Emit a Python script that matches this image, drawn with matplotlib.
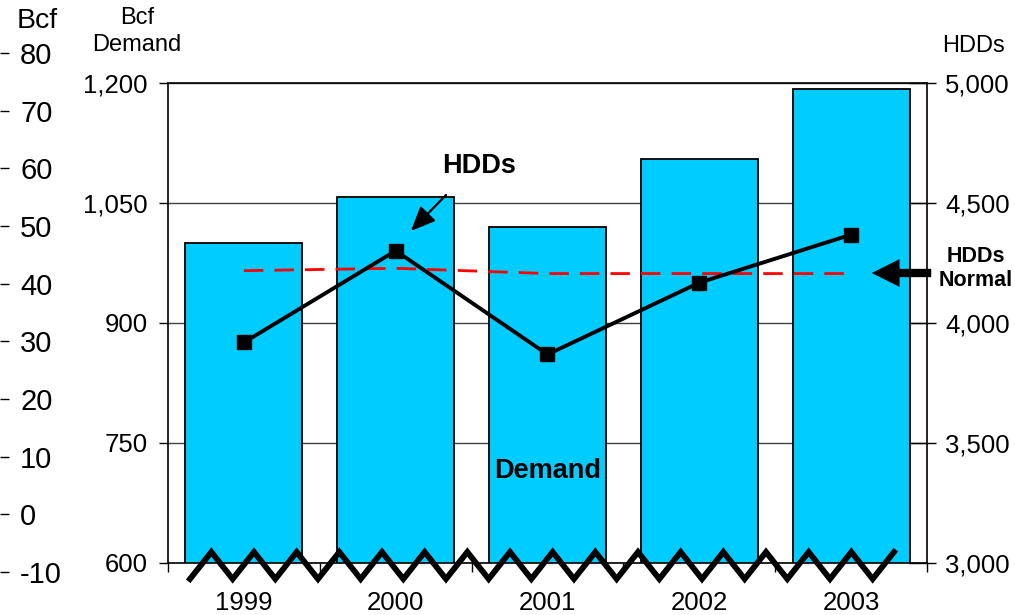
import numpy as np
import matplotlib
matplotlib.use("Agg")
import matplotlib.pyplot as plt
from matplotlib.ticker import FixedLocator, FuncFormatter

plt.rcParams['font.family'] = ['Liberation Sans', 'DejaVu Sans']
plt.rcParams['axes.unicode_minus'] = False

# ---- data ----
years = ["1999", "2000", "2001", "2002", "2003"]
demand_bcf = [1000, 1058, 1020, 1105, 1192]
hdds = [3919, 4301, 3869, 4168, 4368]
hdds_normal = [4218, 4228, 4206, 4206, 4206]
left_ticks = [600, 750, 900, 1050, 1200]
right_ticks = [3000, 3500, 4000, 4500, 5000]
outer_ticks = [-10, 0, 10, 20, 30, 40, 50, 60, 70, 80]

W, H = 1015, 615
fig = plt.figure(figsize=(W / 100, H / 100), dpi=100)

def fx(px):
    return px / W

def fy(py):
    return 1 - py / H

# main axes
L, R, T, B = 168, 927, 83, 563
ax = fig.add_axes([fx(L), fy(B), fx(R) - fx(L), fy(T) - fy(B)])
x = np.arange(len(years))
ax.bar(x, demand_bcf, width=0.77, color="#00CCFF", edgecolor="black",
       linewidth=1.3, zorder=2)
ax.set_xlim(-0.5, len(years) - 0.5)
ax.set_ylim(left_ticks[0], left_ticks[-1])
ax.set_yticks(left_ticks)
ax.yaxis.set_major_formatter(FuncFormatter(lambda v, p: f"{int(v):,}"))
ax.yaxis.grid(True, color="#404040", linewidth=1.0, zorder=0)
ax.set_axisbelow(True)
ax.tick_params(axis="y", direction="out", length=6.5, width=1.0,
               labelsize=18.5, pad=8, colors="black")
# x ticks at category boundaries, labels at centres
ax.xaxis.set_major_locator(FixedLocator(np.arange(-0.5, len(years), 1.0)))
ax.xaxis.set_minor_locator(FixedLocator(x))
ax.xaxis.set_major_formatter(FuncFormatter(lambda v, p: ""))
ax.xaxis.set_minor_formatter(FuncFormatter(lambda v, p: years[int(round(v))]))
ax.tick_params(axis="x", which="major", direction="out", length=6.5, width=1.0)
ax.tick_params(axis="x", which="minor", length=0, labelsize=18.5, pad=20)
for s in ["left", "top", "bottom"]:
    ax.spines[s].set_linewidth(1.2)
ax.spines["right"].set_visible(False)

# right axis (HDDs)
ax2 = ax.twinx()
ax2.set_ylim(right_ticks[0], right_ticks[-1])
ax2.yaxis.set_major_locator(FixedLocator(right_ticks))
ax2.yaxis.set_minor_locator(FixedLocator(right_ticks))
ax2.yaxis.remove_overlapping_locs = False
ax2.yaxis.set_major_formatter(FuncFormatter(lambda v, p: f"{int(v):,}"))
ax2.tick_params(axis="y", which="major", direction="in", length=13, width=1.0,
                labelsize=18.5, pad=13)
ax2.tick_params(axis="y", which="minor", direction="out", length=6.5, width=1.0)
for s in ["left", "top", "bottom"]:
    ax2.spines[s].set_visible(False)
ax2.spines["right"].set_linewidth(1.2)
ax2.plot(x, hdds_normal, color="#FF0000", linewidth=2.0, dashes=(7, 4),
         zorder=3)
ax2.plot(x, hdds, color="black", linewidth=2.8, marker="s", markersize=10,
         zorder=4)

# axis-break zigzag (decoration)
n_pts = 34
zx_px = np.linspace(190, 894, n_pts)
zy_px = np.where(np.arange(n_pts) % 2 == 0, 579, 552)
zx = (zx_px - L) / (R - L) * len(years) - 0.5
zy = left_ticks[0] + (B - zy_px) / (B - T) * (left_ticks[-1] - left_ticks[0])
ax.plot(zx, zy, color="black", linewidth=4.2, solid_joinstyle="miter",
        clip_on=False, zorder=6)

# outer left axis (Bcf)
oT, oB = 53, 572
ax3 = fig.add_axes([0, fy(oB), 0.0001, fy(oT) - fy(oB)])
ax3.set_ylim(outer_ticks[0], outer_ticks[-1])
ax3.set_yticks(outer_ticks)
ax3.yaxis.tick_right()
ax3.tick_params(axis="y", direction="out", length=6.5, width=1.0,
                labelsize=21, pad=8)
ax3.set_xticks([])
for s in ax3.spines.values():
    s.set_visible(False)
ax3.patch.set_visible(False)

# texts
fig.text(fx(37), fy(21), "Bcf", ha="center", va="center", fontsize=20.5)
fig.text(fx(137), fy(18), "Bcf", ha="center", va="center", fontsize=17)
fig.text(fx(137), fy(45), "Demand", ha="center", va="center", fontsize=17)
fig.text(fx(974), fy(46), "HDDs", ha="center", va="center", fontsize=17)
fig.text(fx(479), fy(166), "HDDs", ha="center", va="center", fontsize=19.5,
         fontweight="bold")
fig.text(fx(548), fy(471), "Demand", ha="center", va="center", fontsize=19.5,
         fontweight="bold")
fig.text(fx(976), fy(256), "HDDs", ha="center", va="center",
         fontsize=15.5, fontweight="bold")
fig.text(fx(976), fy(281), "Normal", ha="center", va="center",
         fontsize=15.5, fontweight="bold")

# arrows
fig.add_artist(matplotlib.patches.FancyArrowPatch(
    (fx(448), fy(193)), (fx(409), fy(233)), transform=fig.transFigure,
    arrowstyle="-|>,head_length=15,head_width=6.5", color="black",
    linewidth=1.6, mutation_scale=1))
fig.add_artist(matplotlib.patches.FancyArrowPatch(
    (fx(934), fy(273)), (fx(869), fy(273)), transform=fig.transFigure,
    arrowstyle="simple,head_length=20,head_width=20,tail_width=6",
    color="black", linewidth=0, mutation_scale=1))

fig.savefig("out.png", dpi=100)
